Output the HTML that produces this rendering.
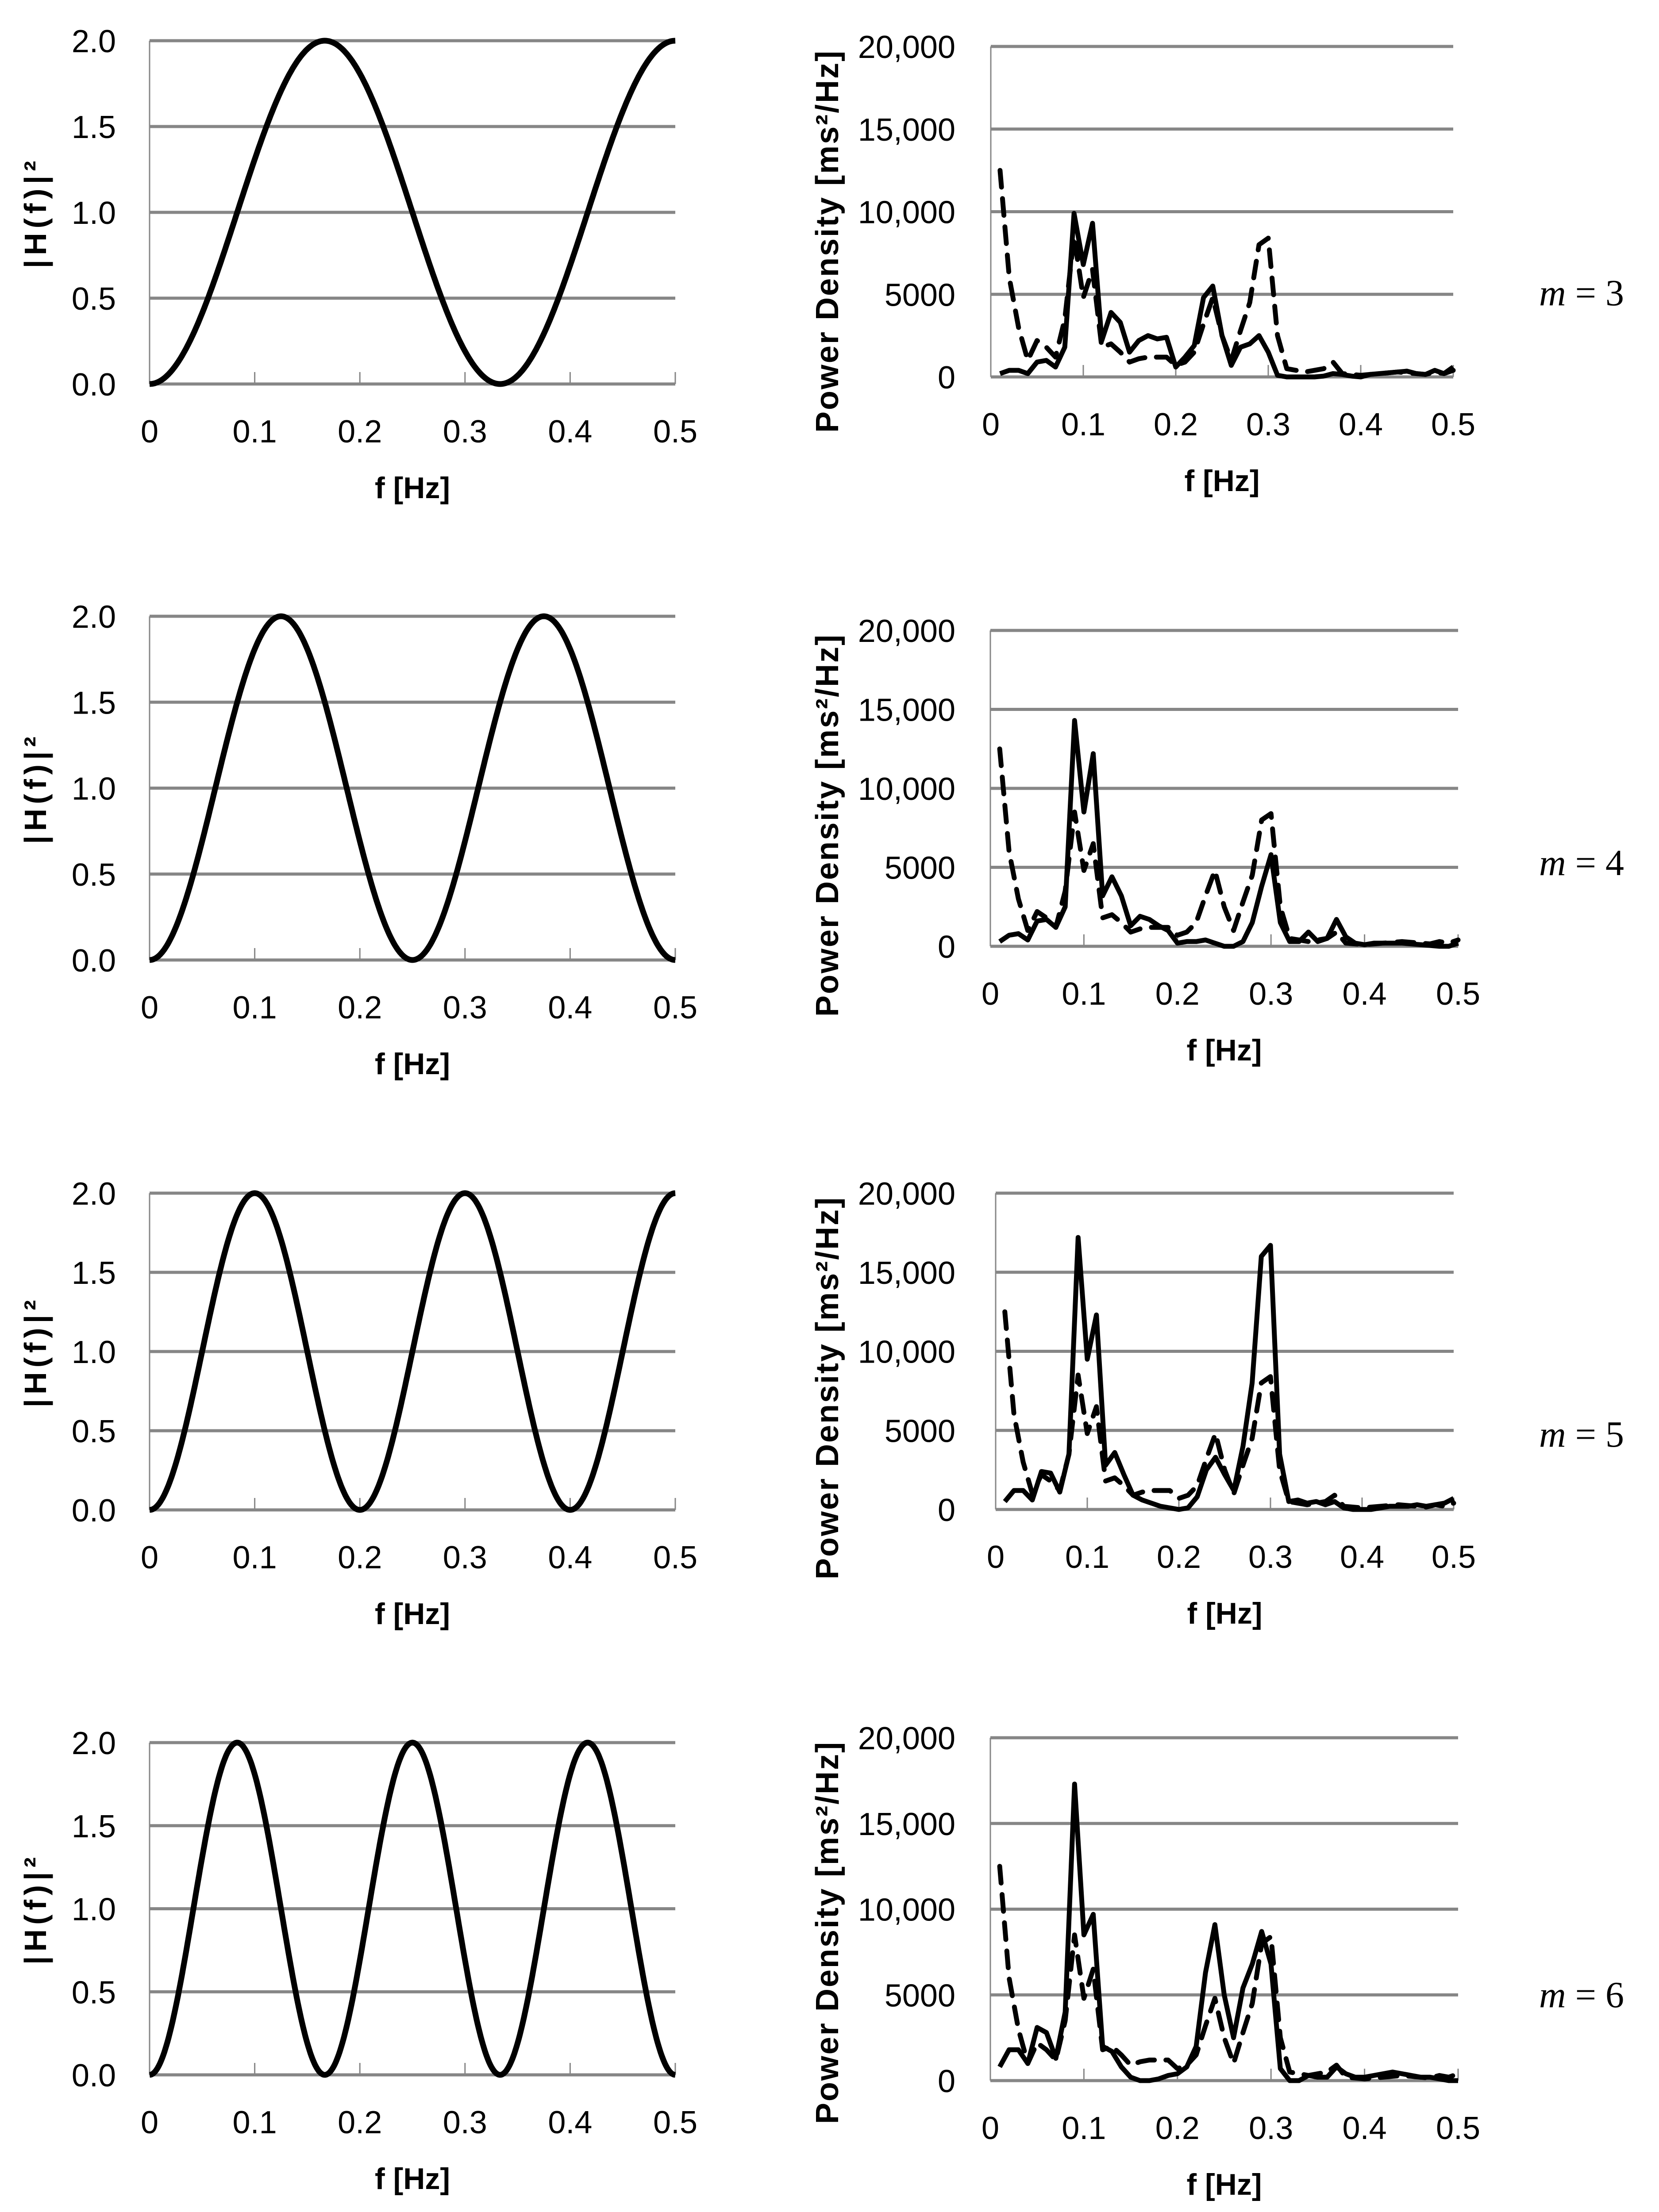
<!DOCTYPE html>
<html><head><meta charset="utf-8"><style>
html,body{margin:0;padding:0;background:#fff;overflow:hidden;width:3749px;height:5019px;}
svg{display:block;}
text{font-family:"Liberation Sans",sans-serif;fill:#000;}
</style></head><body>
<svg id="fig" width="3749" height="5019" viewBox="0 0 3749 5019" xmlns="http://www.w3.org/2000/svg"></svg>
<script>
const freqs = [0.01,0.02,0.03,0.04,0.05,0.06,0.07,0.08,0.09,0.10,0.11,0.12,0.13,0.14,0.15,0.16,0.17,0.18,0.19,0.20,0.21,0.22,0.23,0.24,0.25,0.26,0.27,0.28,0.29,0.30,0.31,0.32,0.33,0.34,0.35,0.36,0.37,0.38,0.39,0.40,0.41,0.42,0.43,0.44,0.45,0.46,0.47,0.48,0.49,0.50];
const baseline = [12500,6000,3000,1000,2200,1800,1200,3500,8500,4800,6500,1800,2000,1500,900,1100,1200,1200,1200,700,900,1500,3200,4800,2500,1000,2800,4500,8000,8400,2500,500,400,300,400,500,900,200,150,100,150,200,250,300,250,200,150,300,200,400];
const filtM3 = [200,400,400,200,900,1000,600,1800,9900,6800,9300,2200,3900,3300,1500,2200,2500,2300,2400,600,1200,1900,4800,5500,2500,700,1800,2000,2500,1500,100,0,0,0,0,50,200,150,50,0,150,200,250,300,350,200,150,400,200,600];
const filtM4 = [300,700,800,400,1600,1700,1200,2500,14300,8500,12200,3200,4400,3200,1300,1900,1700,1300,1000,200,300,300,400,200,0,0,300,1500,3800,5800,1500,300,300,900,300,500,1700,600,200,100,200,200,200,200,150,100,50,0,0,200];
const filtM5 = [500,1200,1200,600,2400,2300,1100,3500,17200,9500,12300,2800,3600,2200,900,600,400,200,100,0,100,800,2500,3300,2200,1200,4000,8000,16000,16700,3500,500,600,400,500,300,500,100,0,0,0,100,200,200,200,300,200,300,400,700];
const filtM6 = [800,1800,1800,1000,3100,2800,1300,4000,17300,8500,9700,2000,1700,800,200,0,0,100,300,400,800,2000,6300,9100,5000,2500,5400,6800,8700,6800,700,0,0,300,200,200,800,400,200,200,300,400,500,400,300,200,200,100,0,0];
const mValues = [3,4,5,6];
const xTicks = [0,0.1,0.2,0.3,0.4,0.5];
const xTickLabels = ["0","0.1","0.2","0.3","0.4","0.5"];
const hTicks = [0,0.5,1.0,1.5,2.0];
const hTickLabels = ["0.0","0.5","1.0","1.5","2.0"];
const pTicks = [0,5000,10000,15000,20000];
const pTickLabels = ["0","5000","10,000","15,000","20,000"];
const filtered = [filtM3,filtM4,filtM5,filtM6];

const NS="http://www.w3.org/2000/svg";
const svg=document.getElementById('fig');
function mk(tag,attrs,parent){const e=document.createElementNS(NS,tag);for(const k in attrs)e.setAttribute(k,attrs[k]);(parent||svg).appendChild(e);return e;}

const leftBoxes=[[338,1526,92,868],[338,1526,1393,2170],[338,1526,2697,3413],[338,1526,3939,4690]];
const rightBoxes=[[2239,3284,105,852],[2238,3295,1425,2139],[2250,3285,2697,3412],[2238,3295,3928,4703]];
const mLabelY=[662,1950,3242,4509];

function axes(g,box,yTicks,yLabels,ymax,labelRight){
  const [x0,x1,y0,y1]=box;
  const sx=v=>x0+(x1-x0)*v/0.5, sy=v=>y1-(y1-y0)*v/ymax;
  yTicks.forEach((t,i)=>{
    const l=mk('line',{x1:x0,x2:x1,y1:sy(t),y2:sy(t),stroke:'#868686','stroke-width':7},g);
    
    
    const tx=mk('text',{x:labelRight,y:sy(t)+26,'text-anchor':'end','font-size':72},g);
    tx.textContent=yLabels[i];
    
    
  });
  const ax=mk('line',{x1:x0,x2:x0,y1:y0,y2:y1,stroke:'#868686','stroke-width':3},g);
  
  
  xTicks.forEach((t,i)=>{
    const tk=mk('line',{x1:sx(t),x2:sx(t),y1:y1,y2:y1-27,stroke:'#868686','stroke-width':3},g);
    
    
    const tx=mk('text',{x:sx(t),y:y1+132,'text-anchor':'middle','font-size':72},g);
    tx.textContent=xTickLabels[i];
    
    
  });
  const xt=mk('text',{x:(x0+x1)/2,y:y1+258,'text-anchor':'middle','font-size':68,'font-weight':'bold'},g);
  xt.textContent='f [Hz]';
  
  
  return {sx,sy};
}

mValues.forEach((m,r)=>{
  const gl=mk('g',{});
  
  
  const lb=leftBoxes[r];
  const L=axes(gl,lb,hTicks,hTickLabels,2,262);
  const yt=mk('text',{transform:`translate(104,${(lb[2]+lb[3])/2}) rotate(-90)`,'text-anchor':'middle','font-size':70,'font-weight':'bold','letter-spacing':10},gl);
  yt.textContent='|H(f)|²';
  
  
  let d='';
  for(let i=0;i<=500;i++){const f=0.5*i/500;const v=2*Math.pow(Math.sin(Math.PI*f*m),2);d+=(i?'L':'M')+L.sx(f).toFixed(1)+','+L.sy(v).toFixed(1);}
  const cp=mk('path',{d,fill:'none',stroke:'#000','stroke-width':13,'stroke-linejoin':'round'},gl);
  
  

  const gr=mk('g',{});
  
  
  const rb=rightBoxes[r];
  const R=axes(gr,rb,pTicks,pTickLabels,20000,2159);
  const yt2=mk('text',{transform:`translate(1894,${rb[2]+440}) rotate(-90)`,'text-anchor':'middle','font-size':72,'font-weight':'bold','letter-spacing':3},gr);
  yt2.textContent='Power Density [ms²/Hz]';
  
  
  const path=(arr)=>arr.map((v,i)=>(i?'L':'M')+R.sx(freqs[i]).toFixed(1)+','+R.sy(v).toFixed(1)).join('');
  const dp=mk('path',{d:path(baseline),fill:'none',stroke:'#000','stroke-width':11,'stroke-dasharray':'38,26','stroke-linecap':'round','stroke-linejoin':'round'},gr);
  
  
  const sp=mk('path',{d:path(filtered[r]),fill:'none',stroke:'#000','stroke-width':11,'stroke-linejoin':'round'},gr);
  
  

  const ml=mk('text',{x:3478,y:mLabelY[r]+28,'font-size':84,style:'font-family:"Liberation Serif",serif'});
  ml.innerHTML='<tspan font-style="italic">m</tspan> = '+m;
  
  
});
</script>
</body></html>
